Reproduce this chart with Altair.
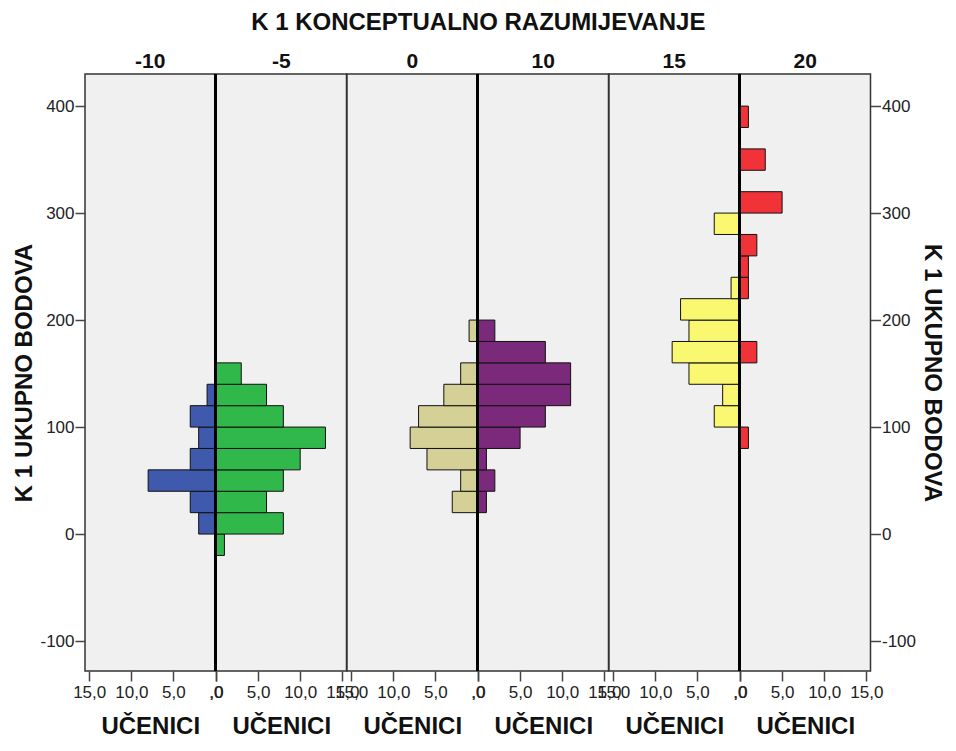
import altair as alt
import pandas as pd

# ---- data ----
BIN_LOW = [-20, 0, 20, 40, 60, 80, 100, 120, 140, 160, 180, 200, 220, 240, 260, 280, 300, 320, 340, 360, 380]
BIN_WIDTH = 20

GROUPS = ["-10", "-5", "0", "10", "15", "20"]

COUNT_M10 = [0, 2, 3, 8, 3, 2, 3, 1, 0, 0, 0, 0, 0, 0, 0, 0, 0, 0, 0, 0, 0]
COUNT_M5 = [1, 8, 6, 8, 10, 13, 8, 6, 3, 0, 0, 0, 0, 0, 0, 0, 0, 0, 0, 0, 0]
COUNT_0 = [0, 0, 3, 2, 6, 8, 7, 4, 2, 0, 1, 0, 0, 0, 0, 0, 0, 0, 0, 0, 0]
COUNT_10 = [0, 0, 1, 2, 1, 5, 8, 11, 11, 8, 2, 0, 0, 0, 0, 0, 0, 0, 0, 0, 0]
COUNT_15 = [0, 0, 0, 0, 0, 0, 3, 2, 6, 8, 6, 7, 1, 0, 0, 3, 0, 0, 0, 0, 0]
COUNT_20 = [0, 0, 0, 0, 0, 1, 0, 0, 0, 2, 0, 0, 1, 1, 2, 0, 5, 0, 3, 0, 1]

COUNTS = [COUNT_M10, COUNT_M5, COUNT_0, COUNT_10, COUNT_15, COUNT_20]
COLORS = ["#3f59ad", "#30b84b", "#d4d096", "#7b2a7b", "#f9f870", "#f13339"]

X_TICKS = [0, 5, 10, 15]
Y_TICKS = [-100, 0, 100, 200, 300, 400]

TITLE = "K 1 KONCEPTUALNO RAZUMIJEVANJE"
Y_TITLE = "K 1 UKUPNO BODOVA"
X_TITLE = "UČENICI"

FONT = "Liberation Sans"
W = 130.5
H = 597

x_label_expr = "datum.value == 0 ? ',0' : replace(format(datum.value, '.1f'), '.', ',')"
y_label_expr = "'' + datum.value"

y_scale = alt.Scale(domain=[-128, 430], nice=False, zero=False)

common_y = dict(values=Y_TICKS, labelExpr=y_label_expr, title=Y_TITLE, tickSize=10,
                domain=False, grid=False, labelFontSize=17, titleFontSize=24,
                titleFontWeight="bold", labelPadding=1, tickColor="#444",
                labelColor="#222", titleColor="#111", tickWidth=1.5)


def half(i):
    df = pd.DataFrame({
        "lo": BIN_LOW,
        "hi": [b + BIN_WIDTH for b in BIN_LOW],
        "n": COUNTS[i],
    })
    df = df[df["n"] > 0]
    left_side = (i % 2 == 0)
    x_scale = alt.Scale(domain=[0, 15.5], nice=False, zero=True, reverse=left_side)
    x_axis = alt.Axis(values=X_TICKS, labelExpr=x_label_expr, title=X_TITLE,
                      tickSize=10, domain=False, grid=False, labelFontSize=17,
                      titleFontSize=24, titleFontWeight="bold", labelPadding=3,
                      titlePadding=14, labelFlush=False, labelOverlap=False,
                      labelBound=False, tickColor="#444", labelColor="#222",
                      titleColor="#111", tickWidth=1.5)
    if i == 0:
        y_axis = alt.Axis(orient="left", titlePadding=3, **common_y)
    elif i == len(GROUPS) - 1:
        y_axis = alt.Axis(orient="right", titlePadding=4, titleAngle=90, **common_y)
    else:
        y_axis = None

    bars = alt.Chart(df).mark_bar(color=COLORS[i], stroke="#111", strokeWidth=1,
                                  opacity=1).encode(
        x=alt.X("n:Q", scale=x_scale, axis=x_axis),
        x2=alt.datum(0),
        y=alt.Y("lo:Q", scale=y_scale, axis=y_axis),
        y2="hi:Q",
    )
    rule = alt.Chart(df).mark_rule(color="#000", strokeWidth=2).encode(
        x=alt.datum(0)
    )
    return alt.layer(bars, rule).properties(
        width=W, height=H,
        title=alt.TitleParams(text=GROUPS[i], fontSize=21, fontWeight="bold",
                              anchor="middle", offset=1, color="#111"),
    )


chart = alt.hconcat(*[half(i) for i in range(len(GROUPS))], spacing=0, bounds="flush").properties(
    title=alt.TitleParams(text=TITLE, fontSize=24, fontWeight="bold", anchor="middle",
                          offset=15, color="#111"),
    padding={"left": 4, "top": 3, "right": 3, "bottom": 1},
).configure(font=FONT).configure_view(
    stroke="#333", strokeWidth=1.5, fill="#f0f0f0"
)

chart.save("out.html", embed_options={"renderer": "svg", "actions": False})
